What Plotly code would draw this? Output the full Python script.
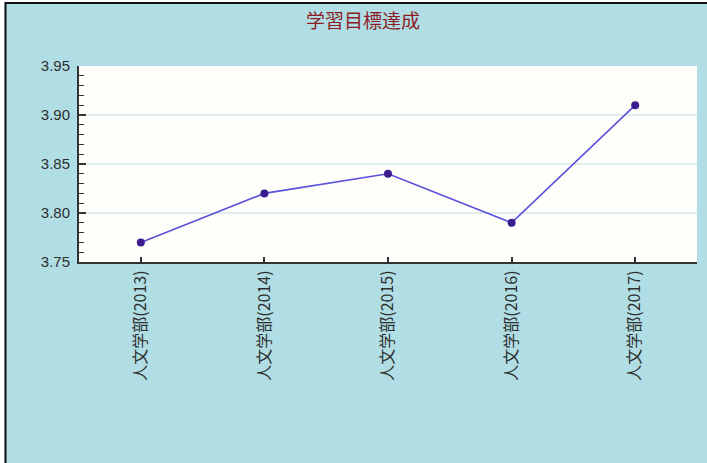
import plotly.graph_objects as go

categories = ["人文学部(2013)", "人文学部(2014)", "人文学部(2015)", "人文学部(2016)", "人文学部(2017)"]
values = [3.77, 3.82, 3.84, 3.79, 3.91]
y_ticks = [3.75, 3.80, 3.85, 3.90, 3.95]
y_tick_labels = ["3.75", "3.80", "3.85", "3.90", "3.95"]
title_text = "学習目標達成"

W, H = 707, 463
ML, MR, MT, MB = 79, 10, 66, 201
PW, PH = W - ML - MR, H - MT - MB

def px_x(p):
    return (p - ML) / PW

def px_y(p):
    return (H - MB - p) / PH

FONT = "Liberation Sans, Arial, Noto Sans CJK JP, sans-serif"

fig = go.Figure()
fig.add_trace(go.Scatter(
    x=categories, y=values, mode="lines+markers",
    line=dict(color="#5a50dc", width=1.6),
    marker=dict(color="#3a1c8e", size=8),
    showlegend=False, hoverinfo="x+y",
))

shapes = [
    dict(type="rect", xref="paper", yref="paper", x0=px_x(-5), x1=px_x(W + 5), y0=px_y(2), y1=px_y(-5),
         fillcolor="white", line=dict(width=0), layer="above"),
    dict(type="rect", xref="paper", yref="paper", x0=px_x(-5), x1=px_x(4.5), y0=px_y(H + 5), y1=px_y(-5),
         fillcolor="white", line=dict(width=0), layer="above"),
    dict(type="line", xref="paper", yref="paper", x0=px_x(5), x1=px_x(W + 5), y0=px_y(3), y1=px_y(3),
         line=dict(color="#111111", width=2), layer="above"),
    dict(type="line", xref="paper", yref="paper", x0=px_x(5.5), x1=px_x(5.5), y0=px_y(2), y1=px_y(H + 5),
         line=dict(color="#111111", width=2), layer="above"),
]

fig.update_layout(
    width=W, height=H,
    margin=dict(l=ML, r=MR, t=MT, b=MB),
    paper_bgcolor="#b0dee4",
    plot_bgcolor="#fefefa",
    font=dict(family=FONT, color="#2e2e2e", size=14),
    title=dict(text=title_text, x=363 / W, xanchor="center", y=1 - 21 / H, yanchor="middle",
               font=dict(family="Noto Sans CJK JP, sans-serif", size=19, color="#8c1c26")),
    shapes=shapes,
    xaxis=dict(
        type="category", range=[-0.5, 4.5],
        showline=True, linecolor="#333333", linewidth=2,
        ticks="inside", ticklen=5, tickcolor="#333333", tickwidth=1.5,
        tickangle=-90, showgrid=False, zeroline=False,
        tickfont=dict(family="Noto Sans CJK JP, Liberation Sans, sans-serif", size=16, color="#2e2e2e"),
    ),
    yaxis=dict(
        range=[3.75, 3.95], tickvals=y_ticks, ticktext=y_tick_labels,
        showline=True, linecolor="#333333", linewidth=2,
        ticks="inside", ticklen=7, tickcolor="#333333", tickwidth=1.5,
        minor=dict(ticks="inside", ticklen=5, dtick=0.01, tickcolor="#333333", tickwidth=1.2, showgrid=False),
        showgrid=True, gridcolor="#e0ecee", gridwidth=1.5, zeroline=False,
        tickfont=dict(family=FONT, size=15, color="#2e2e2e"),
        ticklabelstandoff=4,
    ),
)

fig.write_html("out.html")
